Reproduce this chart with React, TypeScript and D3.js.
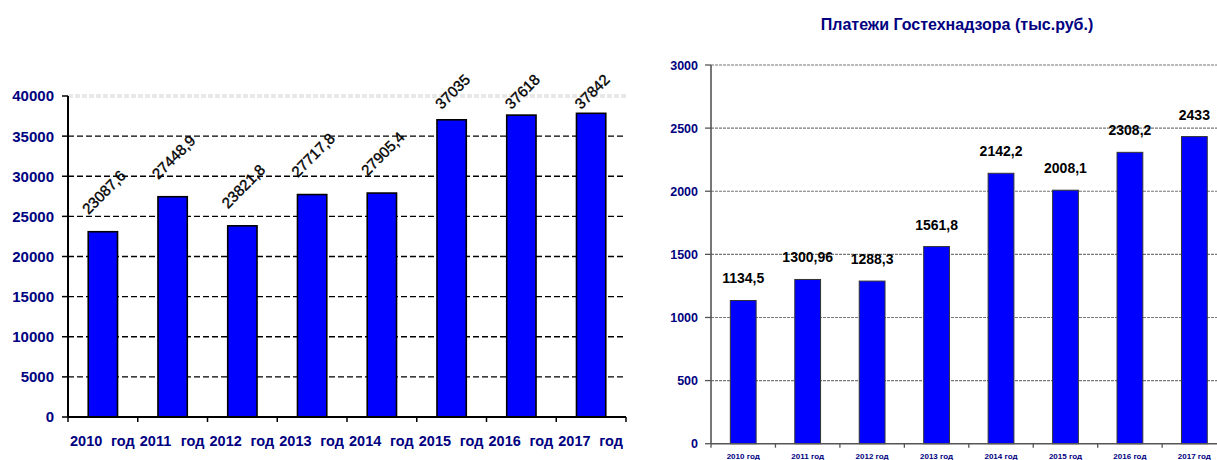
import React from "react";
import * as d3 from "d3";

const leftCategories = ["2010", "2011", "2012", "2013", "2014", "2015", "2016", "2017"];
const leftValues = [23087.6, 27448.9, 23821.8, 27717.8, 27905.4, 37035, 37618, 37842];
const leftLabels = ["23087,6", "27448,9", "23821,8", "27717,8", "27905,4", "37035", "37618", "37842"];
const leftTicks = [0, 5000, 10000, 15000, 20000, 25000, 30000, 35000, 40000];

const rightTitle = "Платежи Гостехнадзора (тыс.руб.)";
const rightCategories = ["2010", "2011", "2012", "2013", "2014", "2015", "2016", "2017"];
const rightValues = [1134.5, 1300.96, 1288.3, 1561.8, 2142.2, 2008.1, 2308.2, 2433];
const rightLabels = ["1134,5", "1300,96", "1288,3", "1561,8", "2142,2", "2008,1", "2308,2", "2433"];
const rightTicks = [0, 500, 1000, 1500, 2000, 2500, 3000];
const yearWord = "год";

const NAVY = "#000080";
const BLUE = "#0000FF";
const FONT = "'Liberation Sans', Arial, sans-serif";

function estWidth(s: string, size: number) {
  let w = 0;
  for (const ch of s) w += ch === "," ? 0.278 : 0.556;
  return w * size;
}

function LeftChart() {
  const x = d3.scaleBand<string>().domain(leftCategories).range([68, 626]).paddingInner(0).paddingOuter(0);
  const y = d3.scaleLinear().domain([0, 40000]).range([417, 96]);
  const bw = x.bandwidth() * 0.42;
  const labelSize = 15;
  return (
    <g fontFamily={FONT}>
      {leftTicks.filter((t) => t > 0 && t < 40000).map((t) => (
        <line key={t} x1={68} x2={626} y1={y(t)} y2={y(t)} stroke="#000" strokeWidth={1.4} strokeDasharray="6,3" />
      ))}
      <line x1={68} x2={626} y1={y(40000) - 1} y2={y(40000) - 1} stroke="#d2d2d2" strokeWidth={1} strokeDasharray="5,2" />
      <line x1={68} x2={626} y1={y(40000) + 1} y2={y(40000) + 1} stroke="#d2d2d2" strokeWidth={1} strokeDasharray="5,2" />
      {leftValues.map((v, i) => {
        const cx = (x(leftCategories[i]) as number) + x.bandwidth() / 2;
        return (
          <rect key={i} x={cx - bw / 2} y={y(v)} width={bw} height={y(0) - y(v)} fill={BLUE} stroke="#000" strokeWidth={1.6} />
        );
      })}
      <line x1={68} x2={68} y1={y(40000)} y2={y(0)} stroke="#000" strokeWidth={2} />
      <line x1={68} x2={626} y1={y(0)} y2={y(0)} stroke="#000" strokeWidth={2} />
      {leftTicks.map((t) => (
        <g key={t}>
          <line x1={62} x2={68} y1={y(t)} y2={y(t)} stroke="#000" strokeWidth={1.5} />
          <text x={54} y={y(t)} dy="0.36em" textAnchor="end" fontSize={15} fontWeight="bold" fill={NAVY}>
            {t}
          </text>
        </g>
      ))}
      {leftCategories.map((c) => {
        const x0 = x(c) as number;
        return (
          <g key={c}>
            <line x1={x0} x2={x0} y1={y(0)} y2={y(0) + 5} stroke="#000" strokeWidth={1.5} />
            <text x={x0 + 2} y={446} fontSize={14.5} fontWeight="bold" fill={NAVY}>{c}</text>
            <text x={x0 + 43} y={446} fontSize={14.5} fontWeight="bold" fill={NAVY}>{yearWord}</text>
          </g>
        );
      })}
      <line x1={626} x2={626} y1={y(0)} y2={y(0) + 5} stroke="#000" strokeWidth={1.5} />
      {leftValues.map((v, i) => {
        const cx = (x(leftCategories[i]) as number) + x.bandwidth() / 2 + 1;
        const len = estWidth(leftLabels[i], labelSize);
        const half = (len + 11) * 0.3535;
        let cy = y(v) - 16.5 - half;
        cy = Math.max(cy, 73 + half);
        return (
          <text key={i} transform={`translate(${cx},${cy}) rotate(-45)`} textAnchor="middle" dy="0.35em"
            fontSize={labelSize} fill="#000" stroke="#000" strokeWidth={0.35}>
            {leftLabels[i]}
          </text>
        );
      })}
    </g>
  );
}

function RightChart() {
  const x0 = 711;
  const x1 = 711 + 8 * 64.45;
  const x = d3.scaleBand<string>().domain(rightCategories).range([x0, x1]).paddingInner(0).paddingOuter(0);
  const y = d3.scaleLinear().domain([0, 3000]).range([443.7, 65]);
  const bw = x.bandwidth() * 0.4;
  return (
    <g fontFamily={FONT}>
      <text x={957} y={30} textAnchor="middle" fontSize={16} fontWeight="bold" fill={NAVY}>{rightTitle}</text>
      {rightTicks.filter((t) => t > 0).map((t) => (
        <line key={t} x1={x0} x2={x1} y1={y(t)} y2={y(t)} stroke="#777" strokeWidth={1.1} strokeDasharray="3,1" />
      ))}
      {rightValues.map((v, i) => {
        const cx = (x(rightCategories[i]) as number) + x.bandwidth() / 2;
        return (
          <g key={i}>
            <rect x={cx - bw / 2} y={y(v)} width={bw} height={y(0) - y(v)} fill={BLUE} stroke="#333" strokeWidth={1} />
            <text x={cx} y={y(v) - 17} textAnchor="middle" fontSize={14} fontWeight="bold" fill="#000">{rightLabels[i]}</text>
          </g>
        );
      })}
      <line x1={x0} x2={x0} y1={y(3000)} y2={y(0)} stroke="#555" strokeWidth={1.6} />
      <line x1={x0} x2={x1} y1={y(0)} y2={y(0)} stroke="#555" strokeWidth={1.6} />
      {rightTicks.map((t) => (
        <g key={t}>
          <line x1={705} x2={x0} y1={y(t)} y2={y(t)} stroke="#555" strokeWidth={1.3} />
          <text x={698} y={y(t)} dy="0.36em" textAnchor="end" fontSize={12.5} fontWeight="bold" fill={NAVY}>{t}</text>
        </g>
      ))}
      {rightCategories.map((c) => {
        const bx = x(c) as number;
        return (
          <g key={c}>
            <line x1={bx} x2={bx} y1={y(0)} y2={y(0) + 4} stroke="#555" strokeWidth={1.3} />
            <text x={bx + x.bandwidth() / 2} y={459} textAnchor="middle" fontSize={8} fontWeight="bold" fill={NAVY}>
              {c + " " + yearWord}
            </text>
          </g>
        );
      })}
    </g>
  );
}

export default function App() {
  return (
    <svg width={1217} height={460} style={{ position: "absolute", left: 0, top: 0, background: "#fff" }}>
      <rect x={0} y={0} width={1217} height={460} fill="#fff" />
      <LeftChart />
      <RightChart />
    </svg>
  );
}
